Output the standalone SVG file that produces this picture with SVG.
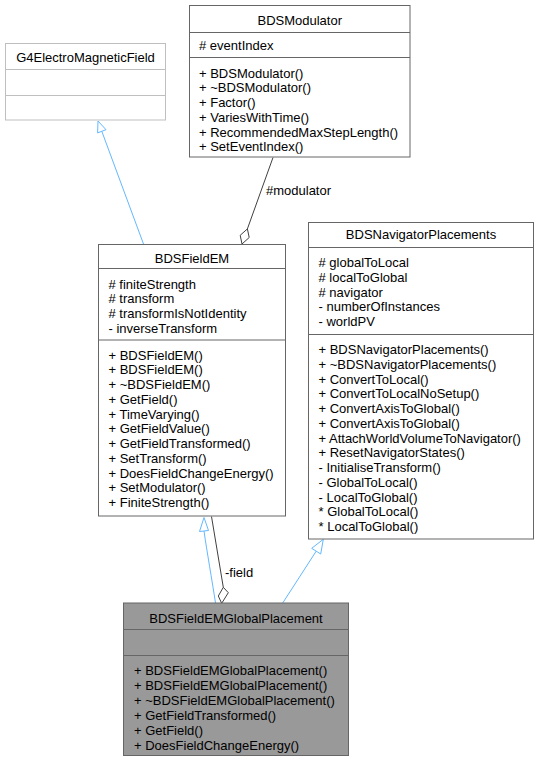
<svg xmlns="http://www.w3.org/2000/svg" width="540" height="762" viewBox="0 0 540 762">
<style>
text{font-family:"Liberation Sans",Arial,Helvetica,sans-serif;font-size:13px;fill:#000}
.t{text-anchor:middle}
.box{fill:#fff;stroke:#666;stroke-width:1}
.ext{fill:#fff;stroke:#bfbfbf;stroke-width:1}
.cur{fill:#999;stroke:#666;stroke-width:1}
.dl{stroke:#666;stroke-width:1}
.dle{stroke:#bfbfbf;stroke-width:1}
.inh{fill:none;stroke:#63b8ff;stroke-width:1}
.cmp{fill:none;stroke:#404040;stroke-width:1}
</style>
<rect width="540" height="762" fill="#fff"/>
<g id="connectors">
<path class="inh" d="M143.5,244 L101.8,131.3"/>
<polygon class="inh" points="98,121 106,129.7 97.6,132.9"/>
<path class="cmp" d="M273,157.5 L247.4,228.9"/>
<polygon class="cmp" fill="#fff" points="247.4,228.9 249.2,237.5 242,244 240.2,235.3"/>
<text x="266" y="195">#modulator</text>
<path class="inh" d="M215.5,603 C212,580 207,552 204,531"/>
<polygon class="inh" points="204,517.5 208.5,530.5 199.5,531.5"/>
<path class="cmp" d="M211.5,516.5 L223.3,587.3"/>
<polygon class="cmp" points="223.3,587.3 228.3,592.7 221.7,603.3 218.3,596"/>
<text x="225" y="577">-field</text>
<path class="inh" d="M282.7,603 L316.2,551.2"/>
<polygon class="inh" points="323.3,539.3 320.7,554 311.7,548.3"/>
</g>
<g id="G4ElectroMagneticField">
<rect class="ext" x="5.5" y="43.5" width="160" height="76.5"/>
<line class="dle" x1="5.5" y1="69.5" x2="165.5" y2="69.5"/>
<line class="dle" x1="5.5" y1="95.5" x2="165.5" y2="95.5"/>
<text class="t" x="85.5" y="61.5">G4ElectroMagneticField</text>
</g>
<g id="BDSModulator">
<rect class="box" x="189.5" y="5.5" width="220.5" height="151.5"/>
<line class="dl" x1="189.5" y1="32.5" x2="410" y2="32.5"/>
<line class="dl" x1="189.5" y1="57.5" x2="410" y2="57.5"/>
<text class="t" x="299.75" y="24.5">BDSModulator</text>
<text x="199" y="49.5"># eventIndex</text>
<text x="199" y="77.5">+ BDSModulator()</text>
<text x="199" y="92.25">+ ~BDSModulator()</text>
<text x="199" y="107">+ Factor()</text>
<text x="199" y="121.75">+ VariesWithTime()</text>
<text x="199" y="136.5">+ RecommendedMaxStepLength()</text>
<text x="199" y="151.25">+ SetEventIndex()</text>
</g>
<g id="BDSFieldEM">
<rect class="box" x="98.5" y="244.5" width="187" height="271.5"/>
<line class="dl" x1="98.5" y1="268.5" x2="285.5" y2="268.5"/>
<line class="dl" x1="98.5" y1="340" x2="285.5" y2="340"/>
<text class="t" x="192" y="262.5">BDSFieldEM</text>
<text x="108.5" y="288.5"># finiteStrength</text>
<text x="108.5" y="303.25"># transform</text>
<text x="108.5" y="318"># transformIsNotIdentity</text>
<text x="108.5" y="332.75">- inverseTransform</text>
<text x="108.5" y="359.5">+ BDSFieldEM()</text>
<text x="108.5" y="374.25">+ BDSFieldEM()</text>
<text x="108.5" y="389">+ ~BDSFieldEM()</text>
<text x="108.5" y="403.75">+ GetField()</text>
<text x="108.5" y="418.5">+ TimeVarying()</text>
<text x="108.5" y="433.25">+ GetFieldValue()</text>
<text x="108.5" y="448">+ GetFieldTransformed()</text>
<text x="108.5" y="462.75">+ SetTransform()</text>
<text x="108.5" y="477.5">+ DoesFieldChangeEnergy()</text>
<text x="108.5" y="492.25">+ SetModulator()</text>
<text x="108.5" y="507">+ FiniteStrength()</text>
</g>
<g id="BDSNavigatorPlacements">
<rect class="box" x="308.5" y="222.5" width="225" height="316.5"/>
<line class="dl" x1="308.5" y1="247.5" x2="533.5" y2="247.5"/>
<line class="dl" x1="308.5" y1="334.5" x2="533.5" y2="334.5"/>
<text class="t" x="421" y="239">BDSNavigatorPlacements</text>
<text x="318.5" y="267"># globalToLocal</text>
<text x="318.5" y="281.75"># localToGlobal</text>
<text x="318.5" y="296.5"># navigator</text>
<text x="318.5" y="311.25">- numberOfInstances</text>
<text x="318.5" y="326">- worldPV</text>
<text x="318.5" y="354">+ BDSNavigatorPlacements()</text>
<text x="318.5" y="368.75">+ ~BDSNavigatorPlacements()</text>
<text x="318.5" y="383.5">+ ConvertToLocal()</text>
<text x="318.5" y="398.25">+ ConvertToLocalNoSetup()</text>
<text x="318.5" y="413">+ ConvertAxisToGlobal()</text>
<text x="318.5" y="427.75">+ ConvertAxisToGlobal()</text>
<text x="318.5" y="442.5">+ AttachWorldVolumeToNavigator()</text>
<text x="318.5" y="457.25">+ ResetNavigatorStates()</text>
<text x="318.5" y="472">- InitialiseTransform()</text>
<text x="318.5" y="486.75">- GlobalToLocal()</text>
<text x="318.5" y="501.5">- LocalToGlobal()</text>
<text x="318.5" y="516.25">* GlobalToLocal()</text>
<text x="318.5" y="531">* LocalToGlobal()</text>
</g>
<g id="BDSFieldEMGlobalPlacement">
<rect class="cur" x="123.5" y="603" width="225" height="152.5"/>
<line class="dl" x1="123.5" y1="629.5" x2="348.5" y2="629.5"/>
<line class="dl" x1="123.5" y1="655.5" x2="348.5" y2="655.5"/>
<text class="t" x="236" y="622.5">BDSFieldEMGlobalPlacement</text>
<text x="134" y="674.5">+ BDSFieldEMGlobalPlacement()</text>
<text x="134" y="689.5">+ BDSFieldEMGlobalPlacement()</text>
<text x="134" y="704.5">+ ~BDSFieldEMGlobalPlacement()</text>
<text x="134" y="719.5">+ GetFieldTransformed()</text>
<text x="134" y="734.5">+ GetField()</text>
<text x="134" y="749.5">+ DoesFieldChangeEnergy()</text>
</g>
</svg>
